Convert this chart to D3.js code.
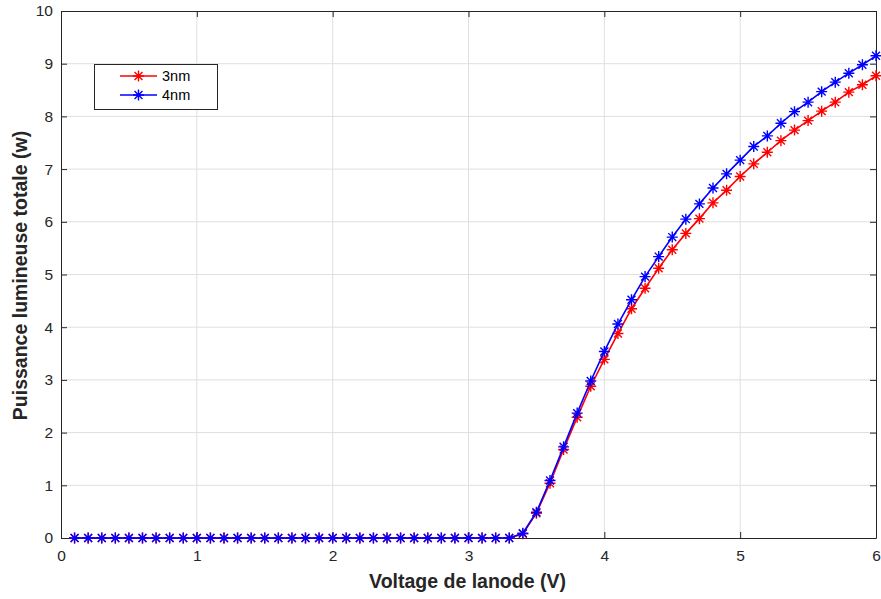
<!DOCTYPE html>
<html><head><meta charset="utf-8">
<script src="https://cdn.jsdelivr.net/npm/d3@7"></script>
<style>body{margin:0;background:#fff}svg{display:block}</style>
</head><body>
<svg id="c" width="881" height="599"></svg>
<script>
const voltage = d3.range(1, 61).map(i => +(i / 10).toFixed(1));
const zeros33 = new Array(33).fill(0);
const p3nm = zeros33.concat([0.08, 0.47, 1.04, 1.68, 2.29, 2.88, 3.39, 3.88, 4.35, 4.74, 5.12, 5.47, 5.78, 6.06, 6.36, 6.60, 6.86, 7.10, 7.32, 7.54, 7.74, 7.92, 8.10, 8.27, 8.46, 8.60, 8.77]);
const p4nm = zeros33.concat([0.09, 0.49, 1.09, 1.73, 2.37, 2.98, 3.54, 4.06, 4.52, 4.96, 5.34, 5.71, 6.05, 6.34, 6.64, 6.91, 7.17, 7.43, 7.63, 7.87, 8.09, 8.27, 8.47, 8.65, 8.82, 8.98, 9.15]);
const xTicks = [0, 1, 2, 3, 4, 5, 6];
const yTicks = [0, 1, 2, 3, 4, 5, 6, 7, 8, 9, 10];
const seriesNames = ["3nm", "4nm"];
const seriesColors = ["#ff0000", "#0000ff"];
const xLabel = "Voltage de lanode (V)";
const yLabel = "Puissance lumineuse totale (w)";

const svg = d3.select("#c");
const L = 61, R = 876, T = 11, B = 538;
const x = d3.scaleLinear().domain([0, 6]).range([L, R]);
const y = d3.scaleLinear().domain([0, 10]).range([B, T]);
const axisCol = "#262626";
const font = "'Liberation Sans', Arial, sans-serif";

// grid
const g = svg.append("g");
g.selectAll(".gx").data(xTicks.slice(1, -1)).enter().append("line")
  .attr("x1", d => x(d)).attr("x2", d => x(d)).attr("y1", T).attr("y2", B)
  .attr("stroke", "#dfdfdf").attr("stroke-width", 1);
g.selectAll(".gy").data(yTicks.slice(1, -1)).enter().append("line")
  .attr("y1", d => y(d)).attr("y2", d => y(d)).attr("x1", L).attr("x2", R)
  .attr("stroke", "#dfdfdf").attr("stroke-width", 1);

// axes
function styleAxis(sel) {
  sel.select(".domain").attr("stroke", axisCol);
  sel.selectAll(".tick line").attr("stroke", axisCol);
  sel.selectAll(".tick text").attr("fill", axisCol).style("font-family", font).style("font-size", "15.5px");
}
const xb = svg.append("g").attr("transform", `translate(0,${B})`)
  .call(d3.axisBottom(x).tickValues(xTicks).tickFormat(d3.format("d")).tickSizeInner(-6).tickSizeOuter(0).tickPadding(12));
styleAxis(xb);
const xt = svg.append("g").attr("transform", `translate(0,${T})`)
  .call(d3.axisTop(x).tickValues(xTicks).tickFormat("").tickSizeInner(-6).tickSizeOuter(0));
styleAxis(xt);
const yl = svg.append("g").attr("transform", `translate(${L},0)`)
  .call(d3.axisLeft(y).tickValues(yTicks).tickFormat(d3.format("d")).tickSizeInner(-6).tickSizeOuter(0).tickPadding(8));
styleAxis(yl);
const yr = svg.append("g").attr("transform", `translate(${R},0)`)
  .call(d3.axisRight(y).tickValues(yTicks).tickFormat("").tickSizeInner(-6).tickSizeOuter(0));
styleAxis(yr);

// series
const seriesData = [p3nm, p4nm];
function asterisk(sel, cx, cy, col, s) {
  const a = s * 0.72;
  sel.append("path")
    .attr("d", `M${cx - s},${cy}L${cx + s},${cy}M${cx},${cy - s}L${cx},${cy + s}M${cx - a},${cy - a}L${cx + a},${cy + a}M${cx - a},${cy + a}L${cx + a},${cy - a}`)
    .attr("stroke", col).attr("stroke-width", 1.4).attr("fill", "none");
}
seriesData.forEach((vals, i) => {
  const pts = voltage.map((v, k) => [v, vals[k]]);
  const line = d3.line().x(d => x(d[0])).y(d => y(d[1]));
  const sg = svg.append("g");
  sg.append("path").datum(pts).attr("d", line).attr("fill", "none")
    .attr("stroke", seriesColors[i]).attr("stroke-width", 1.6);
  pts.forEach(p => asterisk(sg, x(p[0]), y(p[1]), seriesColors[i], 5.5));
});

// legend
const lg = svg.append("g");
lg.append("rect").attr("x", 94.5).attr("y", 64.5).attr("width", 123).attr("height", 45)
  .attr("fill", "#fff").attr("stroke", axisCol).attr("stroke-width", 1);
seriesNames.forEach((n, i) => {
  const yy = 76 + i * 19;
  lg.append("line").attr("x1", 120).attr("x2", 157).attr("y1", yy).attr("y2", yy)
    .attr("stroke", seriesColors[i]).attr("stroke-width", 1.6);
  asterisk(lg, 138.5, yy, seriesColors[i], 5.5);
  lg.append("text").attr("x", 162).attr("y", yy + 5).text(n)
    .attr("fill", "#000").style("font-family", font).style("font-size", "14.5px");
});

// axis labels
svg.append("text").attr("x", (L + R) / 2 - 1).attr("y", 588).attr("text-anchor", "middle")
  .text(xLabel).attr("fill", axisCol).style("font-family", font).style("font-size", "19.5px").style("font-weight", "bold");
svg.append("text").attr("transform", `translate(27,${(T + B) / 2 + 1}) rotate(-90)`).attr("text-anchor", "middle")
  .text(yLabel).attr("fill", axisCol).style("font-family", font).style("font-size", "19.5px").style("font-weight", "bold");
</script>
</body></html>
